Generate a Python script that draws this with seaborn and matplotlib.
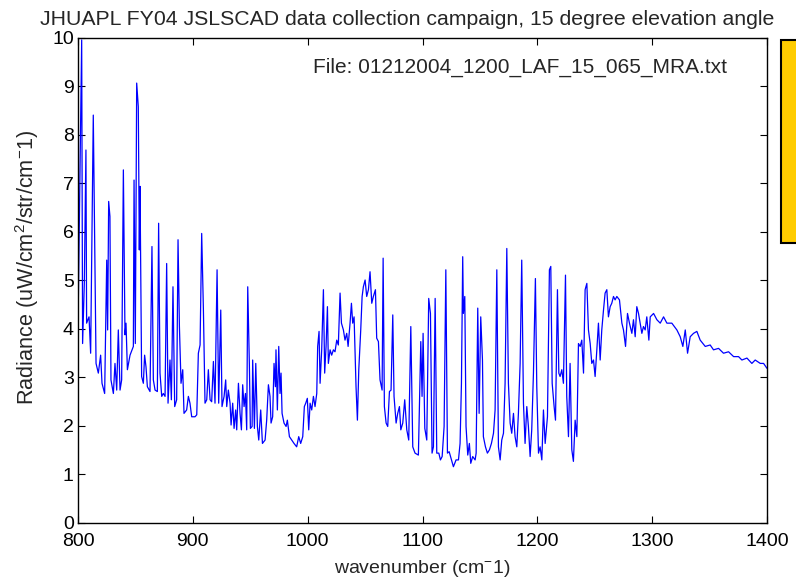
import numpy as np
import pandas as pd
import matplotlib
matplotlib.use('Agg')
import matplotlib.pyplot as plt
import seaborn as sns
from matplotlib.patches import Rectangle

# ------------------------------------------------------------
# spectrum (wavenumber cm-1, radiance)
# ------------------------------------------------------------
wavenumber = [
    800.3, 803.2, 804.0, 805.5, 806.9, 807.5, 809.6, 811.0, 813.3, 815.7,
    817.7, 819.7, 820.9, 823.2, 825.0, 825.8, 826.7, 827.8, 828.7, 830.8,
    832.2, 833.7, 835.1, 836.6, 838.0, 839.5, 840.9, 841.8, 843.0, 845.3,
    848.2, 848.8, 849.9, 851.1, 852.5, 853.4, 854.0, 855.4, 856.9, 858.0,
    859.2, 860.4, 862.7, 864.4, 865.6, 867.1, 869.1, 870.2, 871.4, 872.9,
    874.3, 875.8, 877.2, 878.4, 880.1, 881.3, 882.7, 884.2, 885.9, 887.1,
    888.3, 889.7, 891.2, 892.3, 894.6, 896.1, 897.5, 899.0, 901.9, 903.4,
    904.8, 906.3, 907.7, 909.2, 910.6, 912.1, 913.5, 915.0, 916.4, 917.9,
    919.3, 921.1, 922.5, 924.3, 925.4, 927.2, 928.6, 929.5, 930.9, 932.4,
    933.3, 934.7, 935.9, 937.3, 938.2, 939.7, 941.1, 942.3, 943.4, 944.6,
    945.8, 946.9, 947.8, 949.2, 950.1, 951.6, 952.1, 953.6, 954.8, 956.2,
    957.4, 959.1, 960.6, 962.9, 964.3, 965.8, 967.2, 968.1, 969.5, 970.7,
    971.9, 972.4, 973.6, 974.8, 975.9, 976.8, 977.7, 979.4, 981.2, 982.3,
    984.1, 986.1, 988.1, 990.4, 992.2, 993.9, 995.7, 997.1, 998.3, 999.7,
    1000.9, 1002.1, 1003.5, 1005.0, 1006.4, 1007.9, 1008.7, 1009.9, 1010.8, 1012.2,
    1013.7, 1014.8, 1016.0, 1017.2, 1018.0, 1019.5, 1020.9, 1022.4, 1023.8, 1025.3,
    1026.7, 1028.2, 1029.4, 1031.1, 1032.5, 1034.0, 1035.2, 1036.9, 1038.1, 1039.2,
    1040.4, 1042.1, 1043.3, 1044.5, 1046.2, 1047.4, 1048.5, 1050.0, 1051.4, 1052.9,
    1054.3, 1055.8, 1057.2, 1059.0, 1060.1, 1061.6, 1063.0, 1064.8, 1065.7, 1066.8,
    1068.3, 1069.7, 1071.2, 1072.6, 1074.1, 1075.2, 1077.0, 1078.4, 1079.9, 1081.1,
    1082.8, 1084.5, 1086.3, 1088.0, 1089.8, 1091.5, 1093.5, 1096.4, 1098.5, 1099.6,
    1100.5, 1102.0, 1103.7, 1105.4, 1106.9, 1108.3, 1109.5, 1111.0, 1112.4, 1114.2,
    1115.6, 1117.1, 1118.8, 1120.3, 1121.7, 1123.2, 1126.9, 1129.2, 1131.3, 1132.7,
    1133.9, 1135.0, 1135.6, 1136.8, 1137.9, 1139.4, 1140.8, 1142.0, 1143.7, 1145.8,
    1146.7, 1148.1, 1149.3, 1150.7, 1152.2, 1153.0, 1154.8, 1156.5, 1158.3, 1160.0,
    1161.8, 1163.2, 1164.7, 1166.1, 1167.6, 1169.0, 1170.5, 1171.9, 1173.4, 1174.8,
    1176.3, 1177.7, 1179.2, 1180.6, 1182.1, 1183.5, 1185.0, 1186.4, 1187.9, 1189.3,
    1190.8, 1192.2, 1193.7, 1195.1, 1196.6, 1198.3, 1199.5, 1201.0, 1202.4, 1203.9,
    1205.3, 1206.8, 1208.8, 1210.5, 1211.7, 1212.9, 1214.6, 1215.8, 1217.5, 1218.7,
    1219.8, 1221.3, 1222.7, 1224.5, 1225.6, 1227.1, 1228.5, 1230.0, 1231.4, 1232.9,
    1234.4, 1235.8, 1237.3, 1238.7, 1240.2, 1241.6, 1243.1, 1244.5, 1246.0, 1247.4,
    1248.9, 1250.3, 1251.8, 1253.2, 1254.7, 1256.1, 1257.6, 1259.0, 1260.5, 1261.9,
    1263.4, 1264.8, 1266.3, 1267.7, 1269.2, 1271.5, 1273.6, 1275.0, 1276.8, 1278.5,
    1280.2, 1282.3, 1283.7, 1285.2, 1286.6, 1288.1, 1289.5, 1291.0, 1292.4, 1293.9,
    1295.3, 1297.1, 1298.3, 1301.2, 1304.1, 1307.0, 1309.9, 1312.8, 1317.1, 1321.5,
    1324.4, 1326.7, 1328.8, 1330.8, 1333.1, 1336.0, 1338.9, 1341.8, 1346.2, 1350.5,
    1353.4, 1357.8, 1362.1, 1366.5, 1370.9, 1375.2, 1378.1, 1382.5, 1386.8, 1389.7,
    1394.1, 1397.0, 1399.9,
]
radiance = [
    4.60, 9.96, 3.70, 4.94, 7.69, 4.12, 4.25, 3.50, 8.41, 3.29,
    3.09, 3.46, 2.88, 2.67, 5.42, 3.98, 6.63, 6.32, 2.95, 2.67,
    3.29, 2.74, 3.98, 2.74, 2.95, 7.28, 3.88, 4.12, 3.16, 3.46,
    3.64, 7.07, 3.70, 9.07, 8.58, 5.63, 6.94, 3.02, 2.88, 3.46,
    3.22, 2.81, 2.71, 5.70, 2.95, 2.74, 2.71, 6.18, 3.09, 2.61,
    2.67, 2.61, 5.35, 2.47, 3.36, 2.54, 4.87, 2.40, 2.54, 5.84,
    4.05, 2.88, 3.16, 2.26, 2.33, 2.61, 2.47, 2.19, 2.19, 2.23,
    3.50, 3.67, 5.97, 4.39, 2.47, 2.54, 3.16, 2.54, 2.50, 3.33,
    2.47, 5.22, 2.47, 4.39, 2.40, 2.61, 2.95, 2.40, 2.74, 2.47,
    2.02, 2.47, 1.95, 2.33, 1.92, 2.88, 2.26, 1.92, 2.85, 2.40,
    2.67, 1.92, 4.87, 3.29, 1.95, 1.99, 3.36, 1.95, 3.29, 1.99,
    1.71, 2.33, 1.64, 1.71, 2.12, 2.85, 2.61, 2.06, 2.19, 3.29,
    2.81, 3.57, 2.33, 3.64, 2.67, 3.09, 2.26, 2.06, 1.99, 2.12,
    1.78, 1.71, 1.64, 1.57, 1.78, 1.64, 1.78, 2.40, 2.47, 2.57,
    1.92, 2.47, 2.33, 2.61, 2.40, 2.67, 3.64, 3.95, 2.88, 3.57,
    4.81, 3.09, 3.64, 4.46, 3.29, 3.57, 3.46, 3.57, 3.53, 3.77,
    3.67, 4.74, 4.12, 3.98, 3.77, 3.91, 3.64, 4.12, 4.53, 4.12,
    4.25, 2.81, 2.12, 3.16, 3.98, 4.67, 4.87, 5.01, 4.67, 4.81,
    5.18, 4.53, 4.67, 4.81, 3.81, 3.74, 2.95, 2.74, 5.46, 2.40,
    2.06, 1.99, 2.71, 2.74, 4.29, 2.61, 2.06, 2.26, 2.40, 1.92,
    2.06, 2.54, 1.92, 1.71, 4.05, 1.57, 1.44, 1.40, 3.74, 2.61,
    3.91, 1.95, 1.71, 4.63, 4.32, 1.44, 1.57, 4.63, 1.44, 1.44,
    1.30, 1.37, 1.99, 5.22, 1.44, 1.47, 1.16, 1.30, 1.30, 1.64,
    2.88, 5.49, 4.32, 4.67, 1.99, 1.40, 1.64, 1.23, 1.37, 1.30,
    1.44, 4.43, 2.26, 4.25, 3.36, 1.78, 1.57, 1.44, 1.51, 1.64,
    1.85, 2.33, 5.22, 1.57, 1.30, 1.71, 1.85, 2.88, 5.66, 2.88,
    2.06, 1.85, 2.26, 1.78, 1.57, 2.26, 3.29, 5.42, 2.47, 1.64,
    2.40, 1.99, 1.37, 1.92, 3.09, 5.04, 2.81, 1.44, 1.57, 1.30,
    2.33, 1.64, 2.19, 5.22, 5.29, 2.88, 2.40, 2.12, 4.81, 3.09,
    3.02, 3.16, 2.88, 5.11, 2.61, 1.78, 3.29, 1.51, 1.27, 2.12,
    1.78, 3.70, 3.64, 3.77, 3.09, 4.81, 4.94, 3.98, 3.70, 3.29,
    3.36, 3.02, 3.57, 4.12, 3.36, 3.98, 4.39, 4.74, 4.81, 4.25,
    4.46, 4.53, 4.67, 4.60, 4.67, 4.60, 4.12, 3.98, 3.64, 4.32,
    4.12, 3.91, 4.19, 3.84, 4.46, 4.32, 4.12, 3.91, 4.05, 3.98,
    4.25, 3.77, 4.25, 4.32, 4.19, 4.12, 4.25, 4.12, 4.12, 3.98,
    3.84, 3.64, 3.98, 3.50, 3.84, 3.91, 3.95, 3.77, 3.64, 3.67,
    3.57, 3.60, 3.50, 3.53, 3.43, 3.43, 3.36, 3.40, 3.29, 3.36,
    3.29, 3.29, 3.19,
]

x_ticks = [800, 900, 1000, 1100, 1200, 1300, 1400]
y_ticks = list(range(0, 11))

title = 'JHUAPL FY04 JSLSCAD data collection campaign, 15 degree elevation angle'
file_note = 'File: 01212004_1200_LAF_15_065_MRA.txt'

df = pd.DataFrame({'wavenumber': wavenumber, 'radiance': radiance})

# ------------------------------------------------------------
# figure
# ------------------------------------------------------------
sns.set_style('ticks')
plt.rcParams['font.family'] = ['Liberation Sans', 'DejaVu Sans']
plt.rcParams['mathtext.default'] = 'regular'

fig = plt.figure(figsize=(7.96, 5.78), dpi=100)
ax = fig.add_axes([0.098, 0.0952, 0.8656, 0.8391])

sns.lineplot(data=df, x='wavenumber', y='radiance', ax=ax,
             color='#0000ff', lw=0.9, estimator=None, sort=False)

ax.set_xlim(800, 1400)
ax.set_ylim(0, 10)
ax.set_xticks(x_ticks)
ax.set_yticks(y_ticks)
ax.tick_params(direction='in', length=5, width=0.8, top=True, right=True,
               labelsize=14, colors='black')
ax.tick_params(axis='x', pad=7)
ax.tick_params(axis='y', pad=3)
for sp in ax.spines.values():
    sp.set_visible(True)
    sp.set_color('black')
    sp.set_linewidth(1.0)

ax.set_xlabel('wavenumber (cm$^{-}$1)', fontsize=14, labelpad=6)
ax.set_ylabel('Radiance (uW/cm$^{2}$/str/cm$^{-}$1)', fontsize=15.6)
ax.yaxis.set_label_coords(-0.054, 0.528)
ax.set_title(title, fontsize=15.3, pad=9, x=0.478)
ax.text(0.942, 0.940, file_note, transform=ax.transAxes, ha='right',
        va='center', fontsize=15)

# clipped yellow legend box at right edge
fig.patches.append(Rectangle((0.981, 0.5796), 0.05, 0.3514, transform=fig.transFigure,
                             facecolor='#ffcc00', edgecolor='black', lw=1.5))

plt.savefig('out.png', dpi=100)
